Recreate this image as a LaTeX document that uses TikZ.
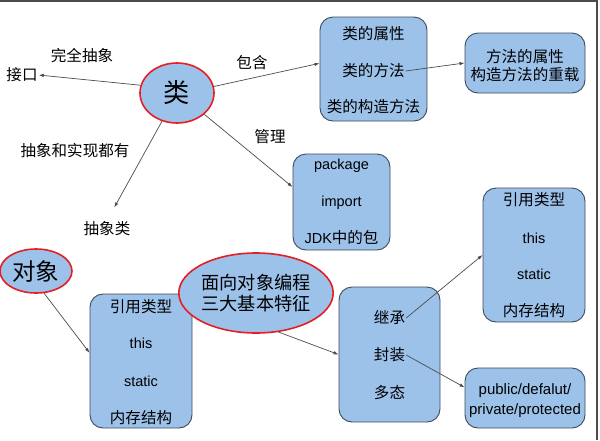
\documentclass[tikz,border=0pt]{standalone}
\usepackage{fontspec}
\setmainfont{Noto Sans CJK SC}[Scale=1.07]
\newfontfamily\arial{Liberation Sans}
\usetikzlibrary{arrows.meta,shapes.geometric}
\definecolor{boxblue}{RGB}{156,194,234}
\definecolor{boxedge}{RGB}{62,74,92}
\definecolor{ringred}{RGB}{228,30,36}

\begin{document}
\begin{tikzpicture}[x=1pt, y=-1pt, font=\fontsize{14.5}{18}\selectfont,
    box/.style={draw=boxedge, fill=boxblue, rounded corners=13pt, line width=0.9pt, inner sep=0pt},
    ring/.style={ellipse, draw=ringred, fill=boxblue, line width=1.6pt, inner sep=0pt},
    txt/.style={inner sep=1pt, align=center},
    conn/.style={draw=black!70, line width=0.7pt, -{Latex[length=5pt,width=3.5pt]}}]
    \useasboundingbox (0,0) rectangle (600,440);
    % frame of the screenshot
    \draw[black!70, line width=2pt] (0,1) -- (597,1) -- (597,440);

    % class
    \node[ring, minimum width=74pt, minimum height=60pt, font=\fontsize{24.5}{28}\selectfont] (lei) at (177,93) {类};
    \node[txt] (jiekou) at (22,75) {接口};
    \node[txt] (chouxianglei) at (107,229) {抽象类};
    \node[txt] at (82,56) {完全抽象};
    \node[txt] at (252,63) {包含};
    \node[txt] at (270,137) {管理};
    \node[txt] at (75,151) {抽象和实现都有};

    \node[box, minimum width=107pt, minimum height=104pt] (boxA) at (373.5,69) {};
    \node[txt] (shuxing) at (373.5,34) {类的属性};
    \node[txt] (fangfa) at (373.5,71) {类的方法};
    \node[txt] (gouzao) at (373.5,107) {类的构造方法};
    \node[box, minimum width=120pt, minimum height=60pt] (boxB) at (525,63) {};
    \node[txt] (chongzai) at (525,66) {方法的属性\\构造方法的重载};

    \node[box, minimum width=97pt, minimum height=96pt] (boxP) at (341.5,202) {};
    \node[txt] (pkg) at (341.5,166) {\arial package};
    \node[txt] (imp) at (341.5,203) {\arial import};
    \node[txt] (jdk) at (341.5,238) {{\arial JDK}中的包};

    % object
    \node[ring, minimum width=72pt, minimum height=44pt, font=\fontsize{22}{25}\selectfont] (duixiang) at (36,271) {对象};
    \node[box, minimum width=102pt, minimum height=134pt] (boxC) at (141,361) {};
    \node[txt] (yinyong) at (141,307) {引用类型};
    \node[txt] (this) at (141,343) {\arial this};
    \node[txt] (static) at (141,381) {\arial static};
    \node[txt] (neicun) at (141,418) {内存结构};

    % three features
    \node[ring, minimum width=125pt, minimum height=80pt, font=\fontsize{17}{21}\selectfont, align=center] (tezheng) at (256,293) {面向对象编程\\三大基本特征};
    \node[box, minimum width=101pt, minimum height=135pt] (boxD) at (389.5,354.5) {};
    \node[txt] (jicheng) at (389.5,318) {继承};
    \node[txt] (fengzhuang) at (389.5,355) {封装};
    \node[txt] (duotai) at (389.5,393) {多态};

    \node[box, minimum width=102pt, minimum height=134pt] (boxE) at (534,255) {};
    \node[txt] (yinyong2) at (534,200) {引用类型};
    \node[txt] (this2) at (534,238) {\arial this};
    \node[txt] (static2) at (534,274) {\arial static};
    \node[txt] (neicun2) at (534,311) {内存结构};
    \node[box, minimum width=120pt, minimum height=60pt] (boxF) at (525,398) {};
    \node[txt, font=\arial\fontsize{15}{20}\selectfont] (fangwen) at (525,401) {public/defalut/\\private/protected};

    % connectors
    \draw[conn] (lei.168) -- (jiekou.east);
    \draw[conn] (lei.10) -- (boxA.174);
    \draw[conn] (lei.-38) -- (boxP.163);
    \draw[conn, shorten >=15pt] (lei.242) -- (chouxianglei.north);
    \draw[conn] (fangfa.east) -- (boxB.west);
    \draw[conn] (duixiang.-70) -- (boxC.171);
    \draw[conn] (tezheng.-60) -- (boxD.west);
    \draw[conn] (jicheng.east) -- (boxE.west);
    \draw[conn] (fengzhuang.east) -- (boxF.170);
\end{tikzpicture}
\end{document}
